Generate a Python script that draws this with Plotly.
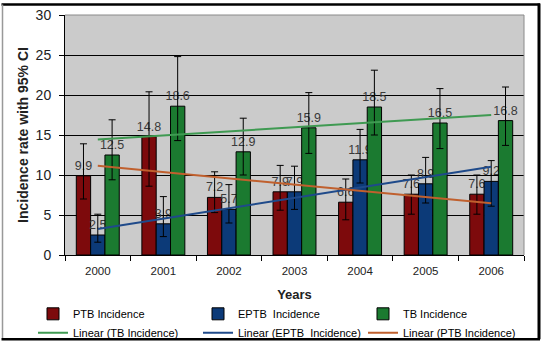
import numpy as np
import plotly.graph_objects as go

years = ["2000", "2001", "2002", "2003", "2004", "2005", "2006"]
ptb = [9.9, 14.8, 7.2, 7.9, 6.6, 7.6, 7.6]
ptb_hi = [13.9, 20.4, 10.4, 11.2, 9.5, 10.0, 10.0]
ptb_lo = [7.0, 8.6, 5.3, 5.6, 4.4, 5.1, 5.1]
eptb = [2.5, 3.9, 5.7, 7.9, 11.9, 8.9, 9.2]
eptb_hi = [5.1, 7.3, 8.8, 11.1, 15.7, 12.2, 11.8]
eptb_lo = [1.6, 2.3, 4.0, 5.7, 9.0, 6.5, 6.1]
tb = [12.5, 18.6, 12.9, 15.9, 18.5, 16.5, 16.8]
tb_hi = [16.9, 24.8, 17.1, 20.3, 23.1, 20.8, 21.0]
tb_lo = [9.4, 14.3, 10.0, 12.7, 15.0, 13.3, 13.7]
y_ticks = [0, 5, 10, 15, 20, 25, 30]

FONT = "Liberation Sans, Arial, sans-serif"
W, H = 543, 341
L, R, T, B = 65, 19, 14.5, 85.5
PW, PH = W - L - R, H - T - B


def fit(vals):
    x = np.arange(len(vals))
    k, b = np.polyfit(x, vals, 1)
    return list(k * x + b)


def err(v, hi, lo):
    return dict(type="data", symmetric=False,
                array=[h - a for a, h in zip(v, hi)],
                arrayminus=[a - l for a, l in zip(v, lo)],
                color="black", thickness=1, width=3.5)


fig = go.Figure()
for name, vals, hi, lo, col in [
    ("PTB Incidence", ptb, ptb_hi, ptb_lo, "#7d0a0c"),
    ("EPTB  Incidence", eptb, eptb_hi, eptb_lo, "#0c3a78"),
    ("TB Incidence", tb, tb_hi, tb_lo, "#1b7a30"),
]:
    fig.add_trace(go.Bar(
        x=years, y=vals, name=name, marker=dict(color=col, line=dict(color="black", width=1)),
        error_y=err(vals, hi, lo), text=[f"{v}" for v in vals], textposition="outside",
        constraintext="none",
        textfont=dict(family=FONT, size=12.5, color="#3a3a3a"), cliponaxis=False,
        legendwidth=120,
    ))

for name, vals, col in [
    ("Linear (TB Incidence)", tb, "#3f9a52"),
    ("Linear (EPTB  Incidence)", eptb, "#1f4a8a"),
    ("Linear (PTB Incidence)", ptb, "#c0602e"),
]:
    fig.add_trace(go.Scatter(x=years, y=fit(vals), mode="lines", name=name,
                             line=dict(color=col, width=2), legendwidth=120))


def px(x):
    return (x - L) / PW


def py(y):
    return (H - B - y) / PH


shapes = [
    dict(type="line", xref="paper", yref="paper", x0=0, x1=1, y0=1, y1=1, line=dict(color="#8a8a8a", width=1)),
    dict(type="line", xref="paper", yref="paper", x0=1, x1=1, y0=0, y1=1, line=dict(color="#8a8a8a", width=1)),
    dict(type="line", xref="paper", yref="paper", x0=px(1.5), x1=px(540), y0=py(4), y1=py(4), line=dict(color="black", width=2.5)),
    dict(type="line", xref="paper", yref="paper", x0=px(2.5), x1=px(2.5), y0=py(4), y1=py(339), line=dict(color="#999999", width=1.5)),
    dict(type="line", xref="paper", yref="paper", x0=px(539), x1=px(539), y0=py(3), y1=py(340), line=dict(color="black", width=3)),
    dict(type="line", xref="paper", yref="paper", x0=px(1.5), x1=px(540), y0=py(340), y1=py(340), line=dict(color="black", width=2.5)),
]

fig.update_layout(
    width=W, height=H, margin=dict(l=L, r=R, t=T, b=B, autoexpand=False),
    paper_bgcolor="white", plot_bgcolor="#cbcbcb",
    barmode="group", bargap=0.345, bargroupgap=0,
    font=dict(family=FONT, color="#222222"),
    shapes=shapes,
    showlegend=True,
    legend=dict(orientation="h", xref="paper", yref="paper", x=px(33), y=py(300),
                xanchor="left", yanchor="top", font=dict(family=FONT, size=11, color="black"),
                bgcolor="rgba(0,0,0,0)", tracegroupgap=0, entrywidthmode="pixels"),
    xaxis=dict(type="category", showline=True, linecolor="black", linewidth=1,
               ticks="outside", ticklen=5, tickcolor="black", tickson="boundaries",
               ticklabelstandoff=5,
               tickfont=dict(family=FONT, size=11.5, color="#222222"),
               title=dict(text="<b>Years</b>", font=dict(family=FONT, size=13, color="#222222"), standoff=14),
               showgrid=False, fixedrange=True),
    yaxis=dict(range=[0, 30], tickvals=y_ticks, showline=True, linecolor="black", linewidth=1,
               ticks="outside", ticklen=5, tickcolor="black", ticklabelstandoff=5,
               tickfont=dict(family=FONT, size=14, color="#222222"),
               showgrid=True, gridcolor="black", gridwidth=1, zeroline=False,
               title=dict(text="<b>Incidence rate with 95% CI</b>", font=dict(family=FONT, size=14, color="#222222"), standoff=3),
               fixedrange=True),
)

fig.write_html("out.html")
